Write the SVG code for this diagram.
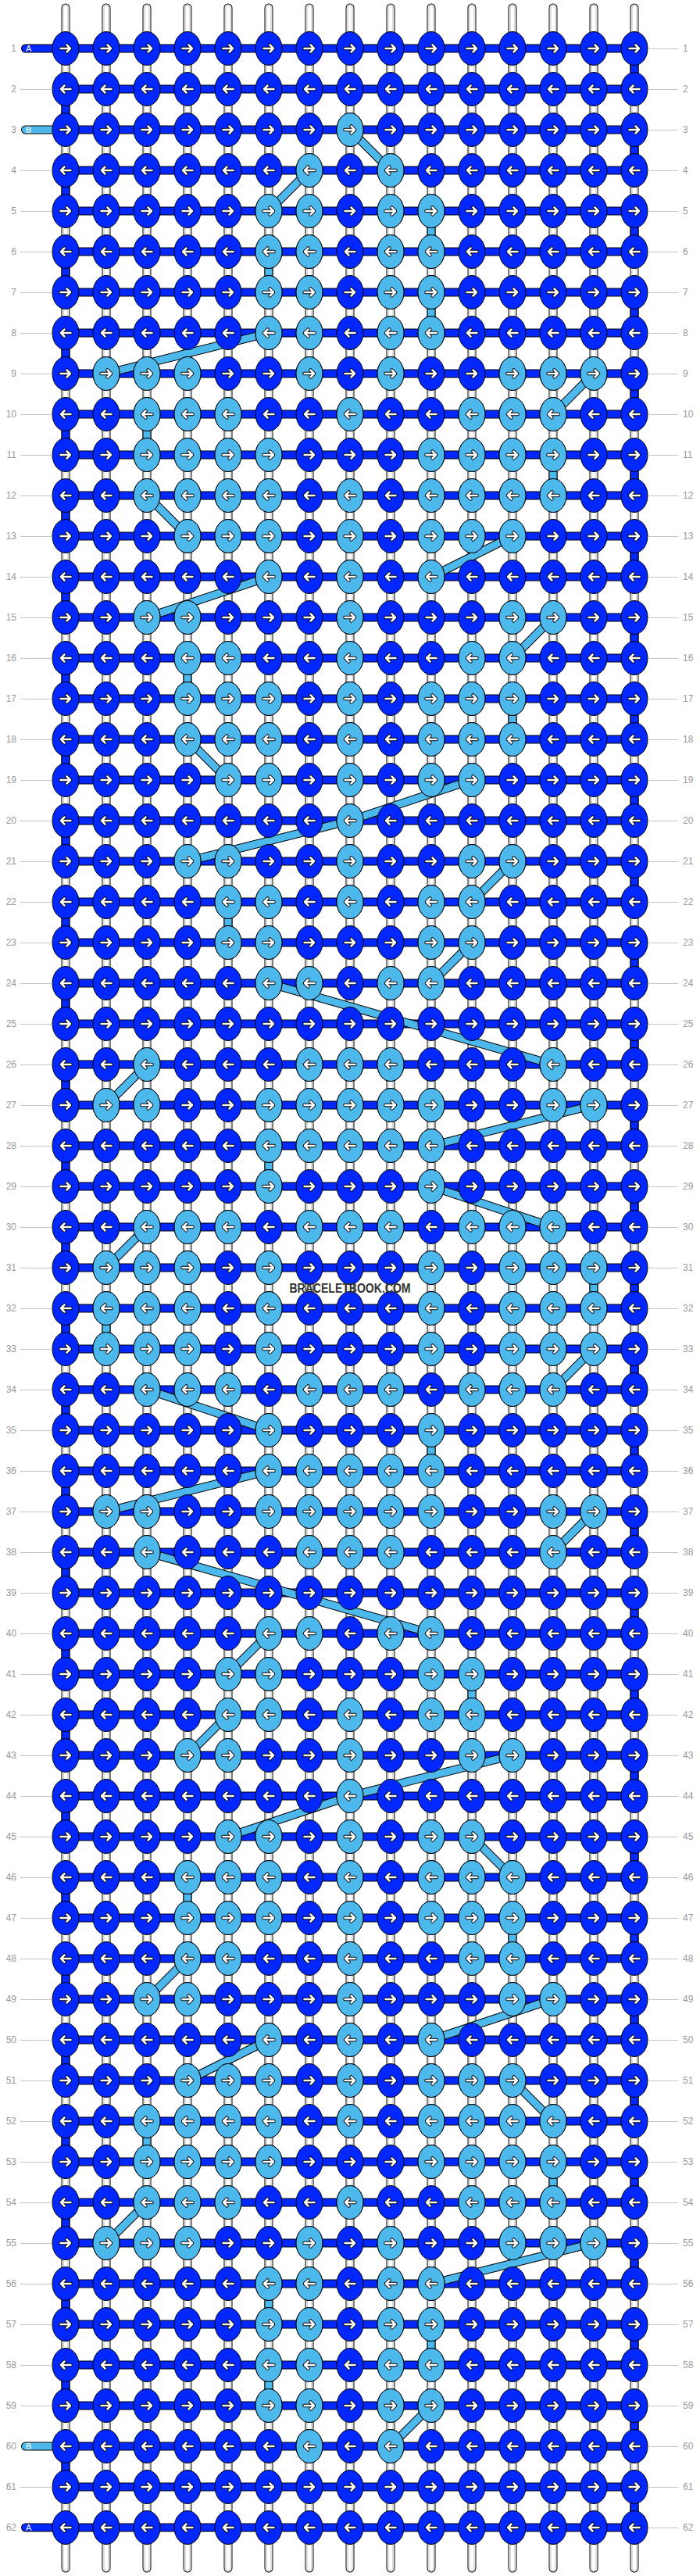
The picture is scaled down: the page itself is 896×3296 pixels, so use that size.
<svg xmlns="http://www.w3.org/2000/svg" width="896" height="3296" viewBox="0 0 896 3296">
<style>
.n{font-family:"Liberation Sans",Arial,sans-serif;font-size:12px;fill:#9a9a9a}
.t{font-family:"Liberation Sans",Arial,sans-serif;font-size:11px;fill:#fff}
.wm{font-family:"Liberation Sans",Arial,sans-serif;font-size:16px;font-weight:bold;fill:#333}
</style>
<defs>
<path id="st" fill="none" stroke-linecap="round" d="M84,10V3286M136,10V3286M188,10V3286M240,10V3286M292,10V3286M344,10V3286M396,10V3286M448,10V3286M500,10V3286M552,10V3286M604,10V3286M656,10V3286M708,10V3286M760,10V3286M812,10V3286"/>
<path id="sa" fill="none" stroke-linecap="round" stroke-linejoin="round" d="M32.5,62H812V114H84V166H812V218H84V270H812V322H84V374H812V426H84V478H812V530H84V582H812V634H84V686H812V738H84V790H812V842H84V894H812V946H84V998H812V1050H84V1102H812V1154H84V1206H812V1258H84V1310H812V1362H84V1414H812V1466H84V1518H812V1570H84V1622H812V1674H84V1726H812V1778H84V1830H812V1882H84V1934H812V1986H84V2038H812V2090H84V2142H812V2194H84V2246H812V2298H84V2350H812V2402H84V2454H812V2506H84V2558H812V2610H84V2662H812V2714H84V2766H812V2818H84V2870H812V2922H84V2974H812V3026H84V3078H812V3130H84V3182H812V3234H32.5"/>
<path id="tb" fill="none" stroke-linecap="round" d="M32.5,166H84M32.5,3130H84"/>
<path id="sb" fill="none" stroke-linejoin="round" d="M448,166L500,218M396,218L344,270M552,270V322M344,322V374M552,374V426M344,426L136,478M760,478L708,530M188,530V582M708,582V634M188,634L240,686M656,686L552,738M344,738L188,790M708,790L656,842M240,842V894M656,894V946M240,946L292,998M604,998L448,1050L240,1102M656,1102L604,1154M292,1154V1206M604,1206L552,1258M344,1258L708,1362M188,1362L136,1414M760,1414L552,1466M344,1466V1518M552,1518L708,1570M188,1570L136,1622M760,1622V1674M136,1674V1726M760,1726L708,1778M188,1778L344,1830M552,1830V1882M344,1882L136,1934M760,1934L708,1986M188,1986L552,2090M344,2090L292,2142M604,2142V2194M292,2194L240,2246M656,2246L448,2298L292,2350M604,2350L656,2402M240,2402V2454M656,2454V2506M240,2506L188,2558M708,2558L552,2610M344,2610L240,2662M656,2662L708,2714M188,2714V2766M708,2766V2818M188,2818L136,2870M760,2870L552,2922M344,2922V2974M552,2974V3026M344,3026V3078M552,3078L500,3130"/>
<path id="ar" fill="none" stroke-linecap="round" stroke-linejoin="round" d="M-6.5,0H6M1.5,-4.5L6,0L1.5,4.5"/>
<g id="arr"><use href="#ar" stroke="#000" stroke-width="4.5"/><use href="#ar" stroke="#fff" stroke-width="2.5"/></g>
<g id="R"><ellipse rx="17" ry="21.5" fill="#0328ff" stroke="#000"/><use href="#arr"/></g>
<g id="L"><ellipse rx="17" ry="21.5" fill="#0328ff" stroke="#000"/><use href="#arr" transform="scale(-1,1)"/></g>
<g id="r"><ellipse rx="17" ry="21.5" fill="#4db8eb" stroke="#000"/><use href="#arr"/></g>
<g id="l"><ellipse rx="17" ry="21.5" fill="#4db8eb" stroke="#000"/><use href="#arr" transform="scale(-1,1)"/></g>
<g id="RR"><use href="#R" x="84"/><use href="#R" x="136"/><use href="#R" x="188"/><use href="#R" x="240"/><use href="#R" x="292"/><use href="#R" x="344"/><use href="#R" x="396"/><use href="#R" x="448"/><use href="#R" x="500"/><use href="#R" x="552"/><use href="#R" x="604"/><use href="#R" x="656"/><use href="#R" x="708"/><use href="#R" x="760"/><use href="#R" x="812"/></g>
<g id="LL"><use href="#L" x="84"/><use href="#L" x="136"/><use href="#L" x="188"/><use href="#L" x="240"/><use href="#L" x="292"/><use href="#L" x="344"/><use href="#L" x="396"/><use href="#L" x="448"/><use href="#L" x="500"/><use href="#L" x="552"/><use href="#L" x="604"/><use href="#L" x="656"/><use href="#L" x="708"/><use href="#L" x="760"/><use href="#L" x="812"/></g>
</defs>
<rect width="896" height="3296" fill="#fff"/>
<g id="strings"><use href="#st" stroke="#000" stroke-width="11"/><use href="#st" stroke="#fff" stroke-width="9"/><use href="#st" stroke="#bdbdbd" stroke-width="7"/><use href="#st" stroke="#fff" stroke-width="5"/></g>
<g id="connectors">
<use href="#sa" stroke="#000" stroke-width="11"/><use href="#sa" stroke="#0328ff" stroke-width="9"/>
<use href="#tb" stroke="#000" stroke-width="11"/><use href="#tb" stroke="#4db8eb" stroke-width="9"/>
<use href="#sb" stroke="#000" stroke-width="11"/><use href="#sb" stroke="#4db8eb" stroke-width="9"/>
</g>
<g id="knots">
<g id="row1" transform="translate(0,62)"><use href="#RR"/></g>
<g id="row2" transform="translate(0,114)"><use href="#LL"/></g>
<g id="row3" transform="translate(0,166)"><use href="#RR"/><use href="#r" x="448"/></g>
<g id="row4" transform="translate(0,218)"><use href="#LL"/><use href="#l" x="396"/><use href="#l" x="500"/></g>
<g id="row5" transform="translate(0,270)"><use href="#RR"/><use href="#r" x="344"/><use href="#r" x="396"/><use href="#r" x="500"/><use href="#r" x="552"/></g>
<g id="row6" transform="translate(0,322)"><use href="#LL"/><use href="#l" x="344"/><use href="#l" x="396"/><use href="#l" x="500"/><use href="#l" x="552"/></g>
<g id="row7" transform="translate(0,374)"><use href="#RR"/><use href="#r" x="344"/><use href="#r" x="396"/><use href="#r" x="500"/><use href="#r" x="552"/></g>
<g id="row8" transform="translate(0,426)"><use href="#LL"/><use href="#l" x="344"/><use href="#l" x="396"/><use href="#l" x="500"/><use href="#l" x="552"/></g>
<g id="row9" transform="translate(0,478)"><use href="#RR"/><use href="#r" x="136"/><use href="#r" x="188"/><use href="#r" x="240"/><use href="#r" x="396"/><use href="#r" x="500"/><use href="#r" x="656"/><use href="#r" x="708"/><use href="#r" x="760"/></g>
<g id="row10" transform="translate(0,530)"><use href="#LL"/><use href="#l" x="188"/><use href="#l" x="240"/><use href="#l" x="292"/><use href="#l" x="448"/><use href="#l" x="604"/><use href="#l" x="656"/><use href="#l" x="708"/></g>
<g id="row11" transform="translate(0,582)"><use href="#RR"/><use href="#r" x="188"/><use href="#r" x="240"/><use href="#r" x="292"/><use href="#r" x="344"/><use href="#r" x="552"/><use href="#r" x="604"/><use href="#r" x="656"/><use href="#r" x="708"/></g>
<g id="row12" transform="translate(0,634)"><use href="#LL"/><use href="#l" x="188"/><use href="#l" x="240"/><use href="#l" x="292"/><use href="#l" x="344"/><use href="#l" x="448"/><use href="#l" x="552"/><use href="#l" x="604"/><use href="#l" x="656"/><use href="#l" x="708"/></g>
<g id="row13" transform="translate(0,686)"><use href="#RR"/><use href="#r" x="240"/><use href="#r" x="292"/><use href="#r" x="344"/><use href="#r" x="448"/><use href="#r" x="552"/><use href="#r" x="604"/><use href="#r" x="656"/></g>
<g id="row14" transform="translate(0,738)"><use href="#LL"/><use href="#l" x="344"/><use href="#l" x="448"/><use href="#l" x="552"/></g>
<g id="row15" transform="translate(0,790)"><use href="#RR"/><use href="#r" x="188"/><use href="#r" x="240"/><use href="#r" x="448"/><use href="#r" x="656"/><use href="#r" x="708"/></g>
<g id="row16" transform="translate(0,842)"><use href="#LL"/><use href="#l" x="240"/><use href="#l" x="292"/><use href="#l" x="448"/><use href="#l" x="604"/><use href="#l" x="656"/></g>
<g id="row17" transform="translate(0,894)"><use href="#RR"/><use href="#r" x="240"/><use href="#r" x="292"/><use href="#r" x="344"/><use href="#r" x="448"/><use href="#r" x="552"/><use href="#r" x="604"/><use href="#r" x="656"/></g>
<g id="row18" transform="translate(0,946)"><use href="#LL"/><use href="#l" x="240"/><use href="#l" x="292"/><use href="#l" x="344"/><use href="#l" x="448"/><use href="#l" x="552"/><use href="#l" x="604"/><use href="#l" x="656"/></g>
<g id="row19" transform="translate(0,998)"><use href="#RR"/><use href="#r" x="292"/><use href="#r" x="344"/><use href="#r" x="448"/><use href="#r" x="552"/><use href="#r" x="604"/></g>
<g id="row20" transform="translate(0,1050)"><use href="#LL"/><use href="#l" x="448"/></g>
<g id="row21" transform="translate(0,1102)"><use href="#RR"/><use href="#r" x="240"/><use href="#r" x="292"/><use href="#r" x="448"/><use href="#r" x="604"/><use href="#r" x="656"/></g>
<g id="row22" transform="translate(0,1154)"><use href="#LL"/><use href="#l" x="292"/><use href="#l" x="344"/><use href="#l" x="448"/><use href="#l" x="552"/><use href="#l" x="604"/></g>
<g id="row23" transform="translate(0,1206)"><use href="#RR"/><use href="#r" x="292"/><use href="#r" x="344"/><use href="#r" x="552"/><use href="#r" x="604"/></g>
<g id="row24" transform="translate(0,1258)"><use href="#LL"/><use href="#l" x="344"/><use href="#l" x="396"/><use href="#l" x="500"/><use href="#l" x="552"/></g>
<g id="row25" transform="translate(0,1310)"><use href="#RR"/></g>
<g id="row26" transform="translate(0,1362)"><use href="#LL"/><use href="#l" x="188"/><use href="#l" x="396"/><use href="#l" x="448"/><use href="#l" x="500"/><use href="#l" x="708"/></g>
<g id="row27" transform="translate(0,1414)"><use href="#RR"/><use href="#r" x="136"/><use href="#r" x="188"/><use href="#r" x="344"/><use href="#r" x="396"/><use href="#r" x="448"/><use href="#r" x="500"/><use href="#r" x="552"/><use href="#r" x="708"/><use href="#r" x="760"/></g>
<g id="row28" transform="translate(0,1466)"><use href="#LL"/><use href="#l" x="344"/><use href="#l" x="396"/><use href="#l" x="448"/><use href="#l" x="500"/><use href="#l" x="552"/></g>
<g id="row29" transform="translate(0,1518)"><use href="#RR"/><use href="#r" x="344"/><use href="#r" x="552"/></g>
<g id="row30" transform="translate(0,1570)"><use href="#LL"/><use href="#l" x="188"/><use href="#l" x="240"/><use href="#l" x="292"/><use href="#l" x="396"/><use href="#l" x="448"/><use href="#l" x="500"/><use href="#l" x="604"/><use href="#l" x="656"/><use href="#l" x="708"/></g>
<g id="row31" transform="translate(0,1622)"><use href="#RR"/><use href="#r" x="136"/><use href="#r" x="188"/><use href="#r" x="240"/><use href="#r" x="344"/><use href="#r" x="552"/><use href="#r" x="656"/><use href="#r" x="708"/><use href="#r" x="760"/></g>
<g id="row32" transform="translate(0,1674)"><use href="#LL"/><use href="#l" x="136"/><use href="#l" x="188"/><use href="#l" x="240"/><use href="#l" x="344"/><use href="#l" x="552"/><use href="#l" x="656"/><use href="#l" x="708"/><use href="#l" x="760"/></g>
<g id="row33" transform="translate(0,1726)"><use href="#RR"/><use href="#r" x="136"/><use href="#r" x="188"/><use href="#r" x="240"/><use href="#r" x="344"/><use href="#r" x="552"/><use href="#r" x="656"/><use href="#r" x="708"/><use href="#r" x="760"/></g>
<g id="row34" transform="translate(0,1778)"><use href="#LL"/><use href="#l" x="188"/><use href="#l" x="240"/><use href="#l" x="292"/><use href="#l" x="396"/><use href="#l" x="448"/><use href="#l" x="500"/><use href="#l" x="604"/><use href="#l" x="656"/><use href="#l" x="708"/></g>
<g id="row35" transform="translate(0,1830)"><use href="#RR"/><use href="#r" x="344"/><use href="#r" x="552"/></g>
<g id="row36" transform="translate(0,1882)"><use href="#LL"/><use href="#l" x="344"/><use href="#l" x="396"/><use href="#l" x="448"/><use href="#l" x="500"/><use href="#l" x="552"/></g>
<g id="row37" transform="translate(0,1934)"><use href="#RR"/><use href="#r" x="136"/><use href="#r" x="188"/><use href="#r" x="344"/><use href="#r" x="396"/><use href="#r" x="448"/><use href="#r" x="500"/><use href="#r" x="552"/><use href="#r" x="708"/><use href="#r" x="760"/></g>
<g id="row38" transform="translate(0,1986)"><use href="#LL"/><use href="#l" x="188"/><use href="#l" x="396"/><use href="#l" x="448"/><use href="#l" x="500"/><use href="#l" x="708"/></g>
<g id="row39" transform="translate(0,2038)"><use href="#RR"/></g>
<g id="row40" transform="translate(0,2090)"><use href="#LL"/><use href="#l" x="344"/><use href="#l" x="396"/><use href="#l" x="500"/><use href="#l" x="552"/></g>
<g id="row41" transform="translate(0,2142)"><use href="#RR"/><use href="#r" x="292"/><use href="#r" x="344"/><use href="#r" x="552"/><use href="#r" x="604"/></g>
<g id="row42" transform="translate(0,2194)"><use href="#LL"/><use href="#l" x="292"/><use href="#l" x="344"/><use href="#l" x="448"/><use href="#l" x="552"/><use href="#l" x="604"/></g>
<g id="row43" transform="translate(0,2246)"><use href="#RR"/><use href="#r" x="240"/><use href="#r" x="292"/><use href="#r" x="448"/><use href="#r" x="604"/><use href="#r" x="656"/></g>
<g id="row44" transform="translate(0,2298)"><use href="#LL"/><use href="#l" x="448"/></g>
<g id="row45" transform="translate(0,2350)"><use href="#RR"/><use href="#r" x="292"/><use href="#r" x="344"/><use href="#r" x="448"/><use href="#r" x="552"/><use href="#r" x="604"/></g>
<g id="row46" transform="translate(0,2402)"><use href="#LL"/><use href="#l" x="240"/><use href="#l" x="292"/><use href="#l" x="344"/><use href="#l" x="448"/><use href="#l" x="552"/><use href="#l" x="604"/><use href="#l" x="656"/></g>
<g id="row47" transform="translate(0,2454)"><use href="#RR"/><use href="#r" x="240"/><use href="#r" x="292"/><use href="#r" x="344"/><use href="#r" x="448"/><use href="#r" x="552"/><use href="#r" x="604"/><use href="#r" x="656"/></g>
<g id="row48" transform="translate(0,2506)"><use href="#LL"/><use href="#l" x="240"/><use href="#l" x="292"/><use href="#l" x="448"/><use href="#l" x="604"/><use href="#l" x="656"/></g>
<g id="row49" transform="translate(0,2558)"><use href="#RR"/><use href="#r" x="188"/><use href="#r" x="240"/><use href="#r" x="448"/><use href="#r" x="656"/><use href="#r" x="708"/></g>
<g id="row50" transform="translate(0,2610)"><use href="#LL"/><use href="#l" x="344"/><use href="#l" x="448"/><use href="#l" x="552"/></g>
<g id="row51" transform="translate(0,2662)"><use href="#RR"/><use href="#r" x="240"/><use href="#r" x="292"/><use href="#r" x="344"/><use href="#r" x="448"/><use href="#r" x="552"/><use href="#r" x="604"/><use href="#r" x="656"/></g>
<g id="row52" transform="translate(0,2714)"><use href="#LL"/><use href="#l" x="188"/><use href="#l" x="240"/><use href="#l" x="292"/><use href="#l" x="344"/><use href="#l" x="448"/><use href="#l" x="552"/><use href="#l" x="604"/><use href="#l" x="656"/><use href="#l" x="708"/></g>
<g id="row53" transform="translate(0,2766)"><use href="#RR"/><use href="#r" x="188"/><use href="#r" x="240"/><use href="#r" x="292"/><use href="#r" x="344"/><use href="#r" x="552"/><use href="#r" x="604"/><use href="#r" x="656"/><use href="#r" x="708"/></g>
<g id="row54" transform="translate(0,2818)"><use href="#LL"/><use href="#l" x="188"/><use href="#l" x="240"/><use href="#l" x="292"/><use href="#l" x="448"/><use href="#l" x="604"/><use href="#l" x="656"/><use href="#l" x="708"/></g>
<g id="row55" transform="translate(0,2870)"><use href="#RR"/><use href="#r" x="136"/><use href="#r" x="188"/><use href="#r" x="240"/><use href="#r" x="396"/><use href="#r" x="500"/><use href="#r" x="656"/><use href="#r" x="708"/><use href="#r" x="760"/></g>
<g id="row56" transform="translate(0,2922)"><use href="#LL"/><use href="#l" x="344"/><use href="#l" x="396"/><use href="#l" x="500"/><use href="#l" x="552"/></g>
<g id="row57" transform="translate(0,2974)"><use href="#RR"/><use href="#r" x="344"/><use href="#r" x="396"/><use href="#r" x="500"/><use href="#r" x="552"/></g>
<g id="row58" transform="translate(0,3026)"><use href="#LL"/><use href="#l" x="344"/><use href="#l" x="396"/><use href="#l" x="500"/><use href="#l" x="552"/></g>
<g id="row59" transform="translate(0,3078)"><use href="#RR"/><use href="#r" x="344"/><use href="#r" x="396"/><use href="#r" x="500"/><use href="#r" x="552"/></g>
<g id="row60" transform="translate(0,3130)"><use href="#LL"/><use href="#l" x="396"/><use href="#l" x="500"/></g>
<g id="row61" transform="translate(0,3182)"><use href="#RR"/></g>
<g id="row62" transform="translate(0,3234)"><use href="#LL"/></g>
</g>
<g id="ticks" transform="translate(0,0.5)">
<path fill="none" stroke="#c4c4c4" stroke-width="1" d="M26,114H67M26,218H67M26,270H67M26,322H67M26,374H67M26,426H67M26,478H67M26,530H67M26,582H67M26,634H67M26,686H67M26,738H67M26,790H67M26,842H67M26,894H67M26,946H67M26,998H67M26,1050H67M26,1102H67M26,1154H67M26,1206H67M26,1258H67M26,1310H67M26,1362H67M26,1414H67M26,1466H67M26,1518H67M26,1570H67M26,1622H67M26,1674H67M26,1726H67M26,1778H67M26,1830H67M26,1882H67M26,1934H67M26,1986H67M26,2038H67M26,2090H67M26,2142H67M26,2194H67M26,2246H67M26,2298H67M26,2350H67M26,2402H67M26,2454H67M26,2506H67M26,2558H67M26,2610H67M26,2662H67M26,2714H67M26,2766H67M26,2818H67M26,2870H67M26,2922H67M26,2974H67M26,3026H67M26,3078H67M26,3182H67M829,62H868M829,114H868M829,166H868M829,218H868M829,270H868M829,322H868M829,374H868M829,426H868M829,478H868M829,530H868M829,582H868M829,634H868M829,686H868M829,738H868M829,790H868M829,842H868M829,894H868M829,946H868M829,998H868M829,1050H868M829,1102H868M829,1154H868M829,1206H868M829,1258H868M829,1310H868M829,1362H868M829,1414H868M829,1466H868M829,1518H868M829,1570H868M829,1622H868M829,1674H868M829,1726H868M829,1778H868M829,1830H868M829,1882H868M829,1934H868M829,1986H868M829,2038H868M829,2090H868M829,2142H868M829,2194H868M829,2246H868M829,2298H868M829,2350H868M829,2402H868M829,2454H868M829,2506H868M829,2558H868M829,2610H868M829,2662H868M829,2714H868M829,2766H868M829,2818H868M829,2870H868M829,2922H868M829,2974H868M829,3026H868M829,3078H868M829,3130H868M829,3182H868M829,3234H868"/>
</g>
<g id="row-numbers-left">
<text class="n" text-anchor="end"><tspan x="21" y="66">1</tspan><tspan x="21" y="118">2</tspan><tspan x="21" y="170">3</tspan><tspan x="21" y="222">4</tspan><tspan x="21" y="274">5</tspan><tspan x="21" y="326">6</tspan><tspan x="21" y="378">7</tspan><tspan x="21" y="430">8</tspan><tspan x="21" y="482">9</tspan><tspan x="21" y="534">10</tspan><tspan x="21" y="586">11</tspan><tspan x="21" y="638">12</tspan><tspan x="21" y="690">13</tspan><tspan x="21" y="742">14</tspan><tspan x="21" y="794">15</tspan><tspan x="21" y="846">16</tspan><tspan x="21" y="898">17</tspan><tspan x="21" y="950">18</tspan><tspan x="21" y="1002">19</tspan><tspan x="21" y="1054">20</tspan><tspan x="21" y="1106">21</tspan><tspan x="21" y="1158">22</tspan><tspan x="21" y="1210">23</tspan><tspan x="21" y="1262">24</tspan><tspan x="21" y="1314">25</tspan><tspan x="21" y="1366">26</tspan><tspan x="21" y="1418">27</tspan><tspan x="21" y="1470">28</tspan><tspan x="21" y="1522">29</tspan><tspan x="21" y="1574">30</tspan><tspan x="21" y="1626">31</tspan><tspan x="21" y="1678">32</tspan><tspan x="21" y="1730">33</tspan><tspan x="21" y="1782">34</tspan><tspan x="21" y="1834">35</tspan><tspan x="21" y="1886">36</tspan><tspan x="21" y="1938">37</tspan><tspan x="21" y="1990">38</tspan><tspan x="21" y="2042">39</tspan><tspan x="21" y="2094">40</tspan><tspan x="21" y="2146">41</tspan><tspan x="21" y="2198">42</tspan><tspan x="21" y="2250">43</tspan><tspan x="21" y="2302">44</tspan><tspan x="21" y="2354">45</tspan><tspan x="21" y="2406">46</tspan><tspan x="21" y="2458">47</tspan><tspan x="21" y="2510">48</tspan><tspan x="21" y="2562">49</tspan><tspan x="21" y="2614">50</tspan><tspan x="21" y="2666">51</tspan><tspan x="21" y="2718">52</tspan><tspan x="21" y="2770">53</tspan><tspan x="21" y="2822">54</tspan><tspan x="21" y="2874">55</tspan><tspan x="21" y="2926">56</tspan><tspan x="21" y="2978">57</tspan><tspan x="21" y="3030">58</tspan><tspan x="21" y="3082">59</tspan><tspan x="21" y="3134">60</tspan><tspan x="21" y="3186">61</tspan><tspan x="21" y="3238">62</tspan></text>
</g>
<g id="row-numbers-right">
<text class="n"><tspan x="874" y="66">1</tspan><tspan x="874" y="118">2</tspan><tspan x="874" y="170">3</tspan><tspan x="874" y="222">4</tspan><tspan x="874" y="274">5</tspan><tspan x="874" y="326">6</tspan><tspan x="874" y="378">7</tspan><tspan x="874" y="430">8</tspan><tspan x="874" y="482">9</tspan><tspan x="874" y="534">10</tspan><tspan x="874" y="586">11</tspan><tspan x="874" y="638">12</tspan><tspan x="874" y="690">13</tspan><tspan x="874" y="742">14</tspan><tspan x="874" y="794">15</tspan><tspan x="874" y="846">16</tspan><tspan x="874" y="898">17</tspan><tspan x="874" y="950">18</tspan><tspan x="874" y="1002">19</tspan><tspan x="874" y="1054">20</tspan><tspan x="874" y="1106">21</tspan><tspan x="874" y="1158">22</tspan><tspan x="874" y="1210">23</tspan><tspan x="874" y="1262">24</tspan><tspan x="874" y="1314">25</tspan><tspan x="874" y="1366">26</tspan><tspan x="874" y="1418">27</tspan><tspan x="874" y="1470">28</tspan><tspan x="874" y="1522">29</tspan><tspan x="874" y="1574">30</tspan><tspan x="874" y="1626">31</tspan><tspan x="874" y="1678">32</tspan><tspan x="874" y="1730">33</tspan><tspan x="874" y="1782">34</tspan><tspan x="874" y="1834">35</tspan><tspan x="874" y="1886">36</tspan><tspan x="874" y="1938">37</tspan><tspan x="874" y="1990">38</tspan><tspan x="874" y="2042">39</tspan><tspan x="874" y="2094">40</tspan><tspan x="874" y="2146">41</tspan><tspan x="874" y="2198">42</tspan><tspan x="874" y="2250">43</tspan><tspan x="874" y="2302">44</tspan><tspan x="874" y="2354">45</tspan><tspan x="874" y="2406">46</tspan><tspan x="874" y="2458">47</tspan><tspan x="874" y="2510">48</tspan><tspan x="874" y="2562">49</tspan><tspan x="874" y="2614">50</tspan><tspan x="874" y="2666">51</tspan><tspan x="874" y="2718">52</tspan><tspan x="874" y="2770">53</tspan><tspan x="874" y="2822">54</tspan><tspan x="874" y="2874">55</tspan><tspan x="874" y="2926">56</tspan><tspan x="874" y="2978">57</tspan><tspan x="874" y="3030">58</tspan><tspan x="874" y="3082">59</tspan><tspan x="874" y="3134">60</tspan><tspan x="874" y="3186">61</tspan><tspan x="874" y="3238">62</tspan></text>
</g>
<g id="string-labels">
<text class="t" x="33" y="66">A</text>
<text class="t" x="33" y="170">B</text>
<text class="t" x="33" y="3134">B</text>
<text class="t" x="33" y="3238">A</text>
</g>
<text class="wm" x="448" y="1654" text-anchor="middle" textLength="155" lengthAdjust="spacingAndGlyphs">BRACELETBOOK.COM</text>
</svg>
